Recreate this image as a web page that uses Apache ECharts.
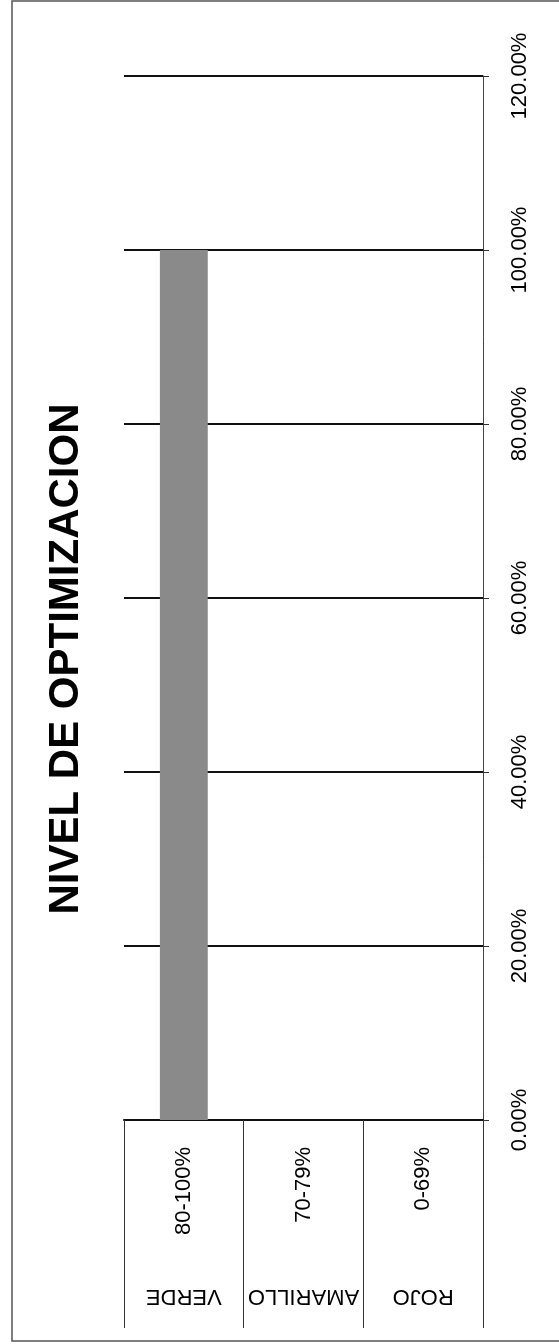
<!DOCTYPE html>
<html>
<head>
<meta charset="utf-8">
<script src="https://cdn.jsdelivr.net/npm/echarts@6/dist/echarts.min.js"></script>
<style>
  html, body { margin: 0; padding: 0; background: #fff; }
  #chart { width: 559px; height: 1344px; }
</style>
</head>
<body>
<div id="chart"></div>
<script>
// ---- data ----
var chartTitle = 'NIVEL DE OPTIMIZACION';
var rangeLabels = ['80-100%', '70-79%', '0-69%'];
var colorLabels = ['VERDE', 'AMARILLO', 'ROJO'];
var values = [1.0, 0, 0];
var valueMin = 0, valueMax = 1.2, valueStep = 0.2;

var FONT = '"Liberation Sans", Arial, sans-serif';
var chart = echarts.init(document.getElementById('chart'), null, { renderer: 'canvas' });

var option = {
  backgroundColor: '#ffffff',
  animation: false,
  grid: { left: 124, right: 76, top: 76, bottom: 224, containLabel: false },
  graphic: [
    { type: 'rect', shape: { x: 12, y: 1, width: 600, height: 1340 },
      style: { fill: 'none', stroke: '#555', lineWidth: 1.5 }, z: -1 },
    { type: 'text', x: 66, y: 659, rotation: Math.PI / 2,
      style: { text: chartTitle, font: 'bold 42px ' + FONT, fill: '#000',
               align: 'center', verticalAlign: 'middle' } }
  ],
  xAxis: [
    {
      type: 'category', position: 'bottom', data: rangeLabels,
      axisLine: { show: true, lineStyle: { color: '#111', width: 2 } },
      axisTick: { show: true, interval: 0, length: 208, inside: false,
                  lineStyle: { color: '#333', width: 1 } },
      axisLabel: { interval: 0, rotate: 90, margin: 27, color: '#000',
                   fontFamily: FONT, fontSize: 22 },
      splitLine: { show: false }
    },
    {
      type: 'category', position: 'bottom', data: colorLabels,
      axisLine: { show: false }, axisTick: { show: false },
      axisLabel: { interval: 0, rotate: 180, margin: 165, color: '#000',
                   fontFamily: FONT, fontSize: 22 },
      splitLine: { show: false }
    }
  ],
  yAxis: {
    type: 'value', position: 'right', min: valueMin, max: valueMax, interval: valueStep,
    axisLine: { show: true, lineStyle: { color: '#444', width: 1 } },
    axisTick: { show: true, length: 6, inside: false, lineStyle: { color: '#333' } },
    axisLabel: { rotate: 90, margin: 26, color: '#000', fontFamily: FONT, fontSize: 22,
                 formatter: function (v) { return (v * 100).toFixed(2) + '%'; } },
    splitLine: { show: true, lineStyle: { color: '#111', width: 2 } }
  },
  series: [
    {
      type: 'bar', xAxisIndex: 0, data: values, barWidth: '40%',
      itemStyle: { color: '#8a8a8a' }
    }
  ]
};
chart.setOption(option);
</script>
</body>
</html>
